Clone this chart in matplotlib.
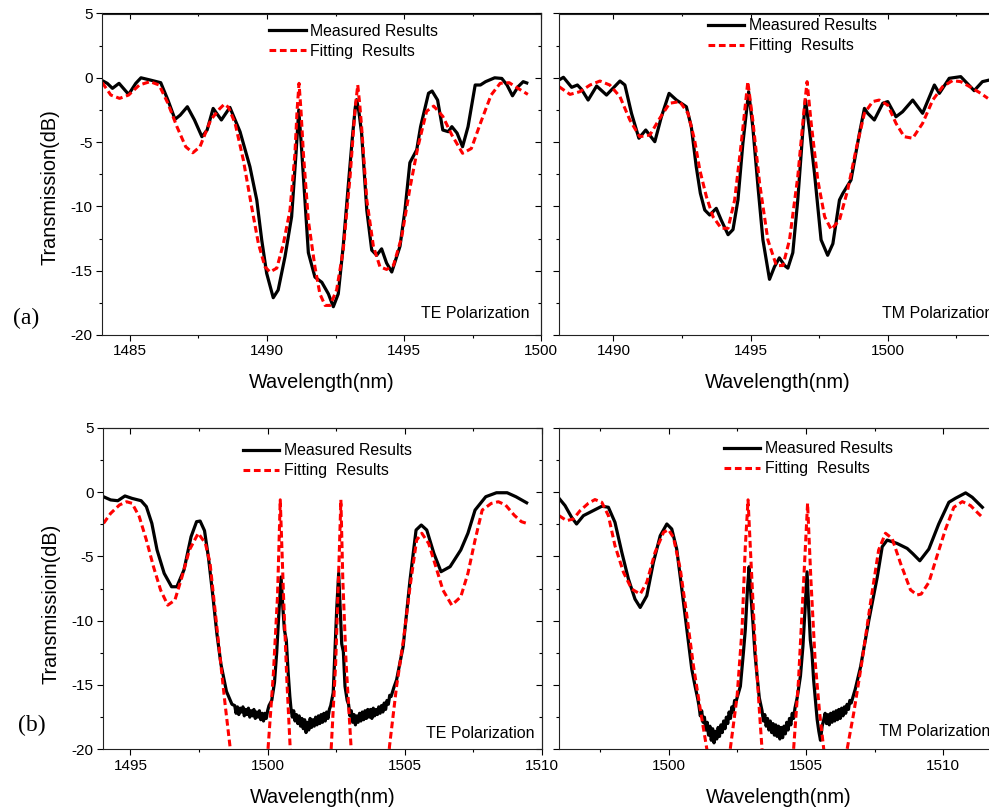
import numpy as np
import matplotlib
matplotlib.use('Agg')
import matplotlib.pyplot as plt
from matplotlib.ticker import MultipleLocator

plt.rcParams['font.family'] = ['Liberation Sans', 'DejaVu Sans']
plt.rcParams['axes.unicode_minus'] = False

# ---- data: (wavelength nm, transmission dB) ----
te_a_measured = [
    (1484.00, -0.22), (1484.18, -0.43), (1484.37, -0.82), (1484.61, -0.43), (1484.96, -1.29),
    (1485.22, -0.43), (1485.41, 0.00), (1485.74, -0.17), (1486.13, -0.38), (1486.39, -1.72),
    (1486.65, -3.23), (1486.84, -2.90), (1487.10, -2.25), (1487.36, -3.28), (1487.63, -4.58),
    (1487.82, -4.06), (1488.04, -2.38), (1488.34, -3.28), (1488.65, -2.30), (1489.02, -4.19),
    (1489.38, -6.91), (1489.63, -9.50), (1489.81, -12.6), (1489.99, -15.2), (1490.23, -17.1),
    (1490.41, -16.5), (1490.66, -13.9), (1490.90, -10.8), (1491.06, -5.9), (1491.16, -2.5),
    (1491.25, -5.1), (1491.33, -7.7), (1491.51, -13.6), (1491.75, -15.5), (1492.00, -15.9),
    (1492.24, -16.8), (1492.42, -17.8), (1492.60, -16.8), (1492.78, -13.1), (1492.96, -8.5),
    (1493.12, -4.5), (1493.22, -2.3), (1493.27, -1.7), (1493.35, -2.6), (1493.45, -4.3),
    (1493.64, -10.3), (1493.82, -13.4), (1494.00, -13.8), (1494.18, -13.3), (1494.36, -14.4),
    (1494.55, -15.1), (1494.85, -13.1), (1495.03, -10.3), (1495.21, -6.6), (1495.46, -5.6),
    (1495.60, -3.8), (1495.89, -1.2), (1496.02, -1.03), (1496.22, -1.73), (1496.41, -4.06),
    (1496.61, -4.19), (1496.74, -3.80), (1496.93, -4.30), (1497.13, -5.36), (1497.33, -3.80),
    (1497.59, -0.56), (1497.78, -0.56), (1497.97, -0.30), (1498.30, 0.00), (1498.56, -0.05),
    (1498.75, -0.56), (1498.95, -1.40), (1499.15, -0.70), (1499.34, -0.30), (1499.47, -0.40),
]
te_a_fitted = [
    (1484.00, -0.38), (1484.31, -1.34), (1484.63, -1.60), (1484.96, -1.34), (1485.35, -0.56),
    (1485.74, -0.30), (1486.07, -0.56), (1486.39, -1.98), (1486.72, -3.80), (1487.04, -5.36),
    (1487.30, -5.83), (1487.56, -5.36), (1487.95, -3.28), (1488.28, -2.40), (1488.45, -2.05),
    (1488.60, -2.30), (1488.84, -3.54), (1489.14, -6.39), (1489.44, -10.0), (1489.69, -12.9),
    (1489.93, -14.7), (1490.11, -15.1), (1490.36, -14.8), (1490.60, -12.9), (1490.84, -10.3),
    (1491.02, -5.9), (1491.10, -2.5), (1491.17, -0.43), (1491.24, -2.5), (1491.33, -5.9),
    (1491.51, -11.1), (1491.75, -14.7), (1491.93, -16.8), (1492.12, -17.7), (1492.30, -17.7),
    (1492.54, -16.5), (1492.78, -13.4), (1493.03, -7.7), (1493.21, -2.5), (1493.31, -0.56),
    (1493.38, -2.0), (1493.45, -3.8), (1493.64, -9.5), (1493.88, -13.1), (1494.12, -14.7),
    (1494.36, -14.9), (1494.61, -14.6), (1494.91, -12.4), (1495.21, -8.6), (1495.50, -5.4),
    (1495.82, -2.6), (1496.08, -2.2), (1496.41, -3.0), (1496.74, -4.45), (1497.13, -5.87),
    (1497.45, -5.5), (1497.78, -3.54), (1498.17, -1.34), (1498.50, -0.43), (1498.83, -0.38),
    (1499.15, -0.82), (1499.51, -1.29),
]
tm_a_measured = [
    (1488.02, -0.17), (1488.18, 0.04), (1488.48, -0.74), (1488.69, -0.56), (1488.84, -0.90),
    (1489.08, -1.73), (1489.39, -0.64), (1489.75, -1.34), (1490.24, -0.25), (1490.42, -0.56),
    (1490.66, -2.76), (1490.93, -4.70), (1491.18, -4.06), (1491.51, -4.97), (1491.75, -3.03),
    (1492.03, -1.21), (1492.30, -1.73), (1492.66, -2.25), (1492.84, -3.80), (1493.02, -6.91),
    (1493.17, -8.98), (1493.33, -10.28), (1493.51, -10.67), (1493.75, -10.15), (1493.93, -11.06),
    (1494.18, -12.2), (1494.36, -11.8), (1494.54, -9.5), (1494.72, -5.1), (1494.93, -1.08),
    (1495.08, -3.8), (1495.27, -8.46), (1495.45, -12.6), (1495.69, -15.67), (1495.87, -14.7),
    (1496.05, -14.0), (1496.24, -14.6), (1496.36, -14.8), (1496.54, -13.6), (1496.72, -9.5),
    (1496.90, -4.3), (1497.00, -1.73), (1497.15, -4.06), (1497.33, -7.43), (1497.57, -12.6),
    (1497.81, -13.8), (1498.00, -12.9), (1498.24, -9.5), (1498.36, -9.0), (1498.66, -7.95),
    (1498.97, -4.3), (1499.15, -2.38), (1499.27, -2.76), (1499.51, -3.28), (1499.82, -1.98),
    (1500.00, -1.85), (1500.30, -3.03), (1500.54, -2.64), (1500.91, -1.73), (1501.27, -2.76),
    (1501.70, -0.56), (1501.88, -1.21), (1502.24, -0.04), (1502.66, 0.09), (1503.15, -1.00),
    (1503.45, -0.30), (1503.65, -0.20),
]
tm_a_fitted = [
    (1488.02, -0.69), (1488.42, -1.29), (1488.78, -1.08), (1489.15, -0.56), (1489.51, -0.25),
    (1489.87, -0.56), (1490.24, -1.47), (1490.60, -3.28), (1490.96, -4.58), (1491.33, -4.45),
    (1491.69, -3.15), (1492.05, -1.98), (1492.42, -1.85), (1492.72, -2.76), (1492.96, -4.84),
    (1493.15, -7.17), (1493.39, -9.24), (1493.63, -10.8), (1493.93, -11.7), (1494.18, -11.7),
    (1494.42, -9.5), (1494.66, -5.1), (1494.90, -0.3), (1495.08, -3.28), (1495.33, -8.2),
    (1495.63, -12.6), (1495.94, -14.6), (1496.18, -14.6), (1496.42, -12.6), (1496.72, -7.7),
    (1496.96, -2.25), (1497.06, -0.3), (1497.21, -3.54), (1497.45, -7.95), (1497.70, -10.8),
    (1497.94, -11.8), (1498.24, -11.06), (1498.54, -8.72), (1498.84, -5.62), (1499.15, -2.76),
    (1499.45, -1.85), (1499.69, -1.73), (1500.00, -2.12), (1500.30, -3.54), (1500.60, -4.58),
    (1500.91, -4.70), (1501.27, -3.54), (1501.64, -1.73), (1502.00, -0.69), (1502.36, -0.22),
    (1502.66, -0.30), (1503.03, -0.74), (1503.39, -1.21), (1503.65, -1.60),
]
te_b_measured = [
    (1494.02, -0.36), (1494.28, -0.61), (1494.54, -0.67), (1494.80, -0.30), (1495.06, -0.49),
    (1495.39, -0.67), (1495.58, -1.13), (1495.78, -2.43), (1495.97, -4.50), (1496.23, -6.32),
    (1496.50, -7.36), (1496.69, -7.36), (1496.95, -6.06), (1497.21, -3.47), (1497.41, -2.30),
    (1497.54, -2.25), (1497.70, -3.00), (1497.85, -5.20), (1498.00, -8.00), (1498.15, -11.0),
    (1498.30, -13.4), (1498.50, -15.5), (1498.70, -16.5),
    (1498.80, -16.6), (1498.85, -17.2), (1498.90, -16.7), (1498.95, -17.3), (1499.00, -16.8),
    (1499.05, -17.1), (1499.10, -16.7), (1499.15, -17.4), (1499.20, -16.9), (1499.25, -17.3),
    (1499.30, -16.8), (1499.35, -17.5), (1499.40, -17.0), (1499.45, -17.4), (1499.50, -16.9),
    (1499.55, -17.6), (1499.60, -17.1), (1499.65, -17.5), (1499.70, -17.0), (1499.75, -17.7),
    (1499.80, -17.2), (1499.85, -17.8), (1499.90, -17.2), (1499.95, -17.6), (1500.00, -17.0),
    (1500.05, -16.6), (1500.15, -16.2), (1500.25, -14.8), (1500.33, -12.5), (1500.41, -9.4),
    (1500.49, -6.6), (1500.55, -8.8), (1500.61, -10.7), (1500.68, -11.5), (1500.75, -14.1),
    (1500.81, -15.9),
    (1500.85, -16.8), (1500.90, -17.5), (1500.95, -17.0), (1501.00, -17.8), (1501.05, -17.3),
    (1501.10, -18.0), (1501.15, -17.4), (1501.20, -18.2), (1501.25, -17.6), (1501.30, -18.4),
    (1501.35, -17.7), (1501.40, -18.7), (1501.45, -17.9), (1501.50, -18.5), (1501.55, -17.6),
    (1501.60, -18.3), (1501.65, -17.7), (1501.70, -18.2), (1501.75, -17.5), (1501.80, -18.1),
    (1501.85, -17.4), (1501.90, -18.0), (1501.95, -17.3), (1502.00, -17.9), (1502.05, -17.2),
    (1502.10, -17.8), (1502.15, -17.1), (1502.20, -17.6), (1502.25, -16.9), (1502.30, -16.6),
    (1502.39, -15.6), (1502.45, -12.5), (1502.52, -9.0), (1502.59, -6.3), (1502.65, -9.2),
    (1502.70, -11.8), (1502.76, -12.4), (1502.82, -15.1), (1502.90, -16.2),
    (1502.95, -16.5), (1503.00, -17.4), (1503.05, -17.0), (1503.10, -17.9), (1503.15, -17.3),
    (1503.20, -18.1), (1503.25, -17.4), (1503.30, -17.9), (1503.35, -17.2), (1503.40, -17.8),
    (1503.45, -17.1), (1503.50, -17.7), (1503.55, -17.0), (1503.60, -17.6), (1503.65, -16.9),
    (1503.70, -17.5), (1503.75, -16.9), (1503.80, -17.6), (1503.85, -16.8), (1503.90, -17.4),
    (1503.95, -16.9), (1504.00, -17.3), (1504.05, -16.7), (1504.10, -17.2), (1504.15, -16.6),
    (1504.20, -17.1), (1504.25, -16.4), (1504.30, -16.9), (1504.35, -16.2), (1504.40, -16.5),
    (1504.45, -15.8), (1504.50, -15.9),
    (1504.60, -15.2), (1504.70, -14.6), (1504.94, -12.0), (1505.19, -6.83), (1505.41, -2.95),
    (1505.60, -2.56), (1505.80, -2.95), (1506.06, -4.77), (1506.32, -6.19), (1506.65, -5.80),
    (1507.04, -4.50), (1507.30, -3.20), (1507.56, -1.40), (1507.95, -0.36), (1508.34, -0.05),
    (1508.73, -0.05), (1509.05, -0.36), (1509.44, -0.83),
]
te_b_fitted = [
    (1494.02, -2.43), (1494.28, -1.65), (1494.60, -1.00), (1494.86, -0.75), (1495.06, -0.87),
    (1495.32, -1.90), (1495.58, -3.72), (1495.84, -5.80), (1496.10, -7.62), (1496.36, -8.79),
    (1496.62, -8.40), (1496.88, -6.58), (1497.15, -4.50), (1497.47, -3.20), (1497.73, -3.98),
    (1497.90, -5.50), (1498.05, -8.50), (1498.25, -12.5), (1498.45, -16.5), (1498.63, -19.8),
    (1498.80, -24.0), (1499.40, -32.0), (1499.90, -24.0), (1500.02, -19.8), (1500.21, -14.1),
    (1500.36, -8.1), (1500.46, -0.6), (1500.58, -8.1), (1500.70, -14.6), (1500.82, -19.8),
    (1500.95, -24.0), (1501.50, -32.0), (1502.20, -24.0), (1502.32, -19.8), (1502.48, -13.3),
    (1502.60, -5.5), (1502.67, -0.6), (1502.74, -6.8), (1502.86, -13.3), (1503.04, -19.8),
    (1503.20, -24.0), (1503.80, -32.0), (1504.30, -24.0), (1504.44, -19.8), (1504.70, -15.1),
    (1504.95, -11.5), (1505.19, -7.36), (1505.43, -3.73), (1505.62, -3.20), (1505.87, -4.00),
    (1506.13, -5.80), (1506.39, -7.62), (1506.71, -8.79), (1507.04, -8.14), (1507.30, -6.32),
    (1507.56, -3.73), (1507.82, -1.40), (1508.15, -0.88), (1508.41, -0.75), (1508.67, -1.00),
    (1508.99, -1.80), (1509.25, -2.30), (1509.44, -2.43),
]
tm_b_measured = [
    (1496.00, -0.48), (1496.22, -1.05), (1496.46, -1.96), (1496.64, -2.48), (1496.89, -1.83),
    (1497.25, -1.44), (1497.56, -1.10), (1497.80, -1.18), (1498.04, -2.35), (1498.29, -4.69),
    (1498.53, -6.76), (1498.77, -8.32), (1498.96, -8.97), (1499.20, -8.06), (1499.44, -5.47),
    (1499.69, -3.39), (1499.93, -2.48), (1500.11, -2.87), (1500.29, -4.43), (1500.48, -7.6),
    (1500.66, -10.7), (1500.84, -13.77), (1500.96, -15.1), (1501.05, -16.0),
    (1501.10, -16.6), (1501.15, -17.4), (1501.20, -17.0), (1501.25, -17.9), (1501.30, -17.5),
    (1501.35, -18.5), (1501.40, -17.9), (1501.45, -18.9), (1501.50, -18.2), (1501.55, -19.3),
    (1501.60, -18.4), (1501.65, -19.5), (1501.70, -18.6), (1501.75, -19.2), (1501.80, -18.3),
    (1501.85, -19.0), (1501.90, -18.1), (1501.95, -18.7), (1502.00, -17.8), (1502.05, -18.4),
    (1502.10, -17.5), (1502.15, -18.0), (1502.20, -17.1), (1502.25, -17.6), (1502.30, -16.7),
    (1502.35, -17.1), (1502.40, -16.2), (1502.45, -16.3),
    (1502.61, -15.1), (1502.72, -12.5), (1502.79, -10.7), (1502.87, -7.5), (1502.93, -5.8),
    (1503.00, -8.2), (1503.07, -10.2), (1503.14, -12.5), (1503.21, -14.1), (1503.30, -16.0),
    (1503.40, -17.0), (1503.45, -17.8), (1503.50, -17.3), (1503.55, -18.2), (1503.60, -17.6),
    (1503.65, -18.5), (1503.70, -17.8), (1503.75, -18.7), (1503.80, -18.0), (1503.85, -18.9),
    (1503.90, -18.1), (1503.95, -19.0), (1504.00, -18.2), (1504.05, -19.2), (1504.10, -18.3),
    (1504.15, -19.1), (1504.20, -18.2), (1504.25, -18.8), (1504.30, -17.9), (1504.35, -18.5),
    (1504.40, -17.6), (1504.45, -18.1), (1504.50, -17.2), (1504.55, -17.6), (1504.60, -16.8),
    (1504.68, -16.0), (1504.80, -14.3), (1504.89, -12.0), (1504.97, -9.0), (1505.04, -6.2),
    (1505.10, -9.0), (1505.16, -11.5), (1505.22, -12.5), (1505.28, -14.6), (1505.35, -16.3),
    (1505.41, -17.7), (1505.47, -18.6), (1505.53, -19.3), (1505.59, -18.2), (1505.65, -17.7),
    (1505.70, -17.2), (1505.75, -18.0), (1505.80, -17.3), (1505.85, -18.1), (1505.90, -17.2),
    (1505.95, -17.9), (1506.00, -17.1), (1506.05, -17.8), (1506.10, -17.0), (1506.15, -17.7),
    (1506.20, -16.9), (1506.25, -17.6), (1506.30, -16.8), (1506.35, -17.4), (1506.40, -16.7),
    (1506.45, -17.2), (1506.50, -16.5), (1506.55, -16.9), (1506.60, -16.2), (1506.65, -16.4),
    (1506.80, -15.3), (1506.99, -13.6), (1507.29, -10.0), (1507.60, -6.6), (1507.78, -4.25),
    (1507.96, -3.73), (1508.32, -3.99), (1508.69, -4.38), (1508.90, -4.80), (1509.15, -5.34),
    (1509.48, -4.43), (1509.84, -2.48), (1510.21, -0.79), (1510.45, -0.48), (1510.82, -0.06),
    (1511.06, -0.40), (1511.43, -1.18),
]
tm_b_fitted = [
    (1496.00, -1.83), (1496.28, -2.22), (1496.52, -2.09), (1496.77, -1.44), (1497.07, -0.87),
    (1497.31, -0.58), (1497.56, -0.79), (1497.80, -1.83), (1498.04, -4.17), (1498.35, -6.24),
    (1498.65, -7.54), (1498.96, -7.93), (1499.20, -7.02), (1499.50, -4.69), (1499.81, -3.13),
    (1499.99, -2.92), (1500.17, -3.52), (1500.42, -5.98), (1500.66, -9.62), (1500.90, -13.51),
    (1501.15, -16.9), (1501.39, -20.0), (1501.60, -25.0), (1501.90, -28.0), (1502.10, -25.0),
    (1502.24, -20.0), (1502.49, -15.9), (1502.67, -10.7), (1502.79, -4.25), (1502.89, -0.6),
    (1503.00, -5.5), (1503.15, -12.0), (1503.31, -17.2), (1503.40, -20.0), (1503.60, -25.0),
    (1504.00, -28.0), (1504.40, -25.0), (1504.55, -20.0), (1504.73, -14.6), (1504.92, -6.8),
    (1505.06, -0.87), (1505.18, -6.8), (1505.34, -13.3), (1505.50, -17.2), (1505.65, -20.0),
    (1505.85, -25.0), (1506.10, -28.0), (1506.35, -25.0), (1506.50, -20.0), (1506.74, -17.2),
    (1507.05, -13.06), (1507.35, -8.65), (1507.65, -4.5), (1507.90, -3.2), (1508.14, -3.6),
    (1508.45, -5.55), (1508.81, -7.6), (1509.05, -8.0), (1509.20, -7.93), (1509.48, -7.02),
    (1509.78, -4.95), (1510.09, -2.87), (1510.39, -1.18), (1510.70, -0.74), (1511.00, -1.05),
    (1511.24, -1.57), (1511.43, -1.96),
]

fig = plt.figure(figsize=(9.89, 8.10), dpi=100)

W, H = 989.0, 810.0
panels = [
    dict(rect=(102.3, 335.0), xlim=(1484, 1500), meas=te_a_measured, fit=te_a_fitted,
         pol='TE Polarization', pol_xy=(0.972, 0.068), pol_ha='right', leg=(0.38, 0.968),
         ylabel='Transmission(dB)', ylab_y=0.46),
    dict(rect=(558.5, 335.0), xlim=(1488, 1504), meas=tm_a_measured, fit=tm_a_fitted,
         pol='TM Polarization', pol_xy=(0.738, 0.068), pol_ha='left', leg=(0.34, 0.985),
         ylabel=None),
    dict(rect=(103.0, 749.3), xlim=(1494, 1510), meas=te_b_measured, fit=te_b_fitted,
         pol='TE Polarization', pol_xy=(0.984, 0.05), pol_ha='right', leg=(0.319, 0.952),
         ylabel='Transmissioin(dB)', ylab_y=0.452),
    dict(rect=(559.0, 749.3), xlim=(1496, 1512), meas=tm_b_measured, fit=tm_b_fitted,
         pol='TM Polarization', pol_xy=(0.73, 0.055), pol_ha='left', leg=(0.376, 0.958),
         ylabel=None),
]

aw, ah = 439.0, 321.5
for p in panels:
    left, bot = p['rect']
    ax = fig.add_axes([left / W, (H - bot) / H, aw / W, ah / H])
    mw, md = np.array(p['meas']).T
    fw, fd = np.array(p['fit']).T
    ax.plot(mw, md, color='black', lw=2.3, solid_joinstyle='round', label='Measured Results')
    ax.plot(fw, fd, color='#ff0000', lw=2.2, ls=(0, (2.2, 1.2)), label='Fitting  Results')
    ax.set_xlim(*p['xlim'])
    ax.set_ylim(-20, 5)

    ax.xaxis.set_major_locator(MultipleLocator(5))
    ax.xaxis.set_minor_locator(MultipleLocator(2.5))
    ax.yaxis.set_major_locator(MultipleLocator(5))
    ax.yaxis.set_minor_locator(MultipleLocator(2.5))
    ax.tick_params(which='major', direction='out', length=4.3, width=0.8, labelsize=11, pad=2.5)
    ax.tick_params(which='minor', direction='out', length=2.5, width=0.8)
    for s in ax.spines.values():
        s.set_linewidth(0.8)
        s.set_color('#222222')

    # inward ticks on top / right
    top = ax.secondary_xaxis('top')
    top.xaxis.set_major_locator(MultipleLocator(5))
    top.xaxis.set_minor_locator(MultipleLocator(2.5))
    top.tick_params(which='both', direction='in', labeltop=False, width=0.8)
    top.tick_params(which='major', length=4.3)
    top.tick_params(which='minor', length=2.5)
    right = ax.secondary_yaxis('right')
    right.yaxis.set_major_locator(MultipleLocator(5))
    right.yaxis.set_minor_locator(MultipleLocator(2.5))
    right.tick_params(which='both', direction='in', labelright=False, width=0.8)
    right.tick_params(which='major', length=4.3)
    right.tick_params(which='minor', length=2.5)

    if p['ylabel']:
        ax.set_ylabel(p['ylabel'], fontsize=14.3, va='center')
        ax.yaxis.set_label_coords(-0.119, p['ylab_y'])
    else:
        ax.tick_params(axis='y', labelleft=False)
    ax.set_xlabel('Wavelength(nm)', fontsize=14.3, va='center')
    ax.xaxis.set_label_coords(0.5, -0.149)

    ax.text(p['pol_xy'][0], p['pol_xy'][1], p['pol'], transform=ax.transAxes,
            ha=p['pol_ha'], va='center', fontsize=11.5)
    ax.legend(loc='upper left', bbox_to_anchor=p['leg'], frameon=False, fontsize=11.4,
              handlelength=2.3, handletextpad=0.3, labelspacing=0.31,
              borderpad=0, borderaxespad=0)

fig.text(26 / W, 1 - 318 / H, '(a)', fontsize=17, family='Liberation Serif', ha='center', va='center')
fig.text(32 / W, 1 - 725.5 / H, '(b)', fontsize=17, family='Liberation Serif', ha='center', va='center')

fig.savefig('out.png', dpi=100)
